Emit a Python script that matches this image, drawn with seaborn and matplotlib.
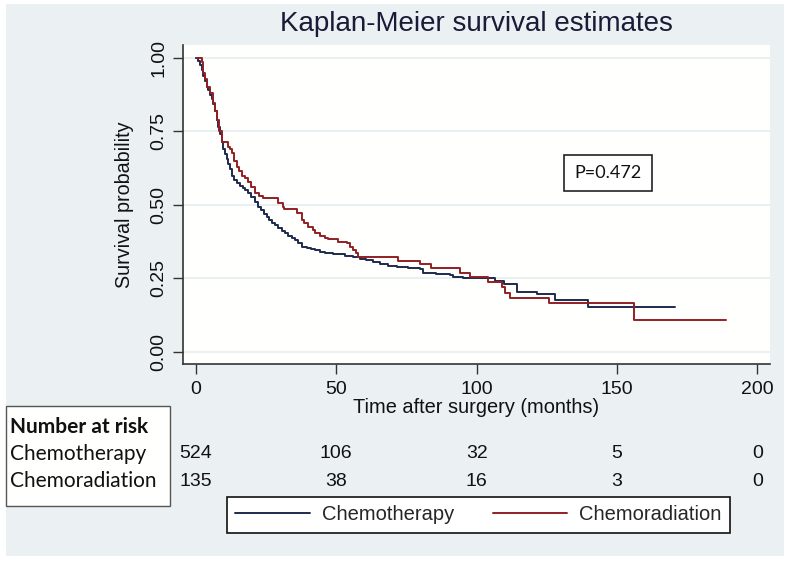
import numpy as np
import pandas as pd
import matplotlib
matplotlib.use("Agg")
import matplotlib.pyplot as plt
import seaborn as sns
from matplotlib.patches import Rectangle
from matplotlib.transforms import blended_transform_factory

# ---------------- data ----------------
groups = ["Chemotherapy", "Chemoradiation"]

chemo_time = [0, 0.7, 1.4, 2.0, 2.6, 3.2, 3.8, 4.4, 5.0, 5.6, 6.2, 6.8, 7.4, 8.0, 8.6,
              9.2, 9.8, 10.3, 10.9, 11.5, 12.1, 12.8, 13.5, 14.5, 15.7, 16.6, 17.5,
              18.6, 19.8, 21.0, 22.2, 23.2, 24.2, 25.2, 26.2, 27.2, 28.2, 29.4, 30.5,
              31.7, 32.9, 34.1, 35.3, 36.5, 37.7, 39.5, 41.0, 42.4, 44.2, 46.0, 49.0,
              53.0, 56.0, 58.4, 60.5, 63.0, 65.6, 68.5, 71.5, 75.5, 79.8, 81.0, 85.5,
              90.5, 91.7, 95.0, 97.6, 106.6, 109.6, 114.3, 121.4, 128.0, 139.8, 170.7]
chemo_surv = [1.0, 0.99, 0.976, 0.96, 0.94, 0.92, 0.90, 0.89, 0.875, 0.86, 0.845, 0.82,
              0.79, 0.765, 0.74, 0.715, 0.69, 0.672, 0.655, 0.64, 0.622, 0.60, 0.585,
              0.575, 0.565, 0.558, 0.55, 0.54, 0.528, 0.51, 0.494, 0.482, 0.47, 0.46,
              0.45, 0.44, 0.432, 0.422, 0.412, 0.403, 0.395, 0.388, 0.381, 0.37, 0.358,
              0.354, 0.35, 0.347, 0.341, 0.336, 0.332, 0.328, 0.322, 0.317, 0.312,
              0.305, 0.298, 0.294, 0.29, 0.285, 0.281, 0.27, 0.266, 0.262, 0.256,
              0.252, 0.25, 0.24, 0.232, 0.205, 0.196, 0.175, 0.152, 0.152]

crt_time = [0, 2.0, 2.6, 3.2, 3.8, 5.0, 6.2, 6.8, 7.4, 8.3, 9.2, 11.3, 12.0, 12.7, 13.6,
            14.5, 15.4, 16.3, 17.5, 18.6, 19.8, 21.0, 22.5, 24.0, 29.3, 31.1, 31.5,
            35.9, 37.7, 38.5, 40.0, 41.8, 42.4, 44.2, 46.0, 47.1, 50.7, 53.7, 55.0,
            56.0, 57.0, 57.9, 72.1, 79.8, 83.6, 94.1, 97.6, 104.2, 108.9, 110.1,
            111.9, 125.6, 156.2, 188.9]
crt_surv = [1.0, 0.987, 0.95, 0.93, 0.90, 0.88, 0.846, 0.82, 0.79, 0.75, 0.713, 0.698,
            0.69, 0.675, 0.65, 0.63, 0.615, 0.60, 0.59, 0.578, 0.562, 0.54, 0.53,
            0.523, 0.508, 0.494, 0.487, 0.472, 0.449, 0.437, 0.426, 0.415, 0.403,
            0.395, 0.388, 0.383, 0.375, 0.369, 0.358, 0.347, 0.335, 0.322, 0.311,
            0.299, 0.285, 0.268, 0.254, 0.239, 0.222, 0.202, 0.182, 0.165, 0.109, 0.109]

risk_times = [0, 50, 100, 150, 200]
risk_chemo = [524, 106, 32, 5, 0]
risk_crt = [135, 38, 16, 3, 0]
x_ticks = [0, 50, 100, 150, 200]
y_ticks = [0.00, 0.25, 0.50, 0.75, 1.00]
p_text = "P=0.472"
title = "Kaplan-Meier survival estimates"
xlabel = "Time after surgery (months)"
ylabel = "Survival probability"

colors = {"Chemotherapy": "#1e2a4e", "Chemoradiation": "#921f24"}

df = pd.concat([
    pd.DataFrame({"time": chemo_time, "surv": chemo_surv, "group": groups[0]}),
    pd.DataFrame({"time": crt_time, "surv": crt_surv, "group": groups[1]}),
], ignore_index=True)

# ---------------- figure ----------------
sns.set_theme(style="white")
plt.rcParams["font.family"] = ["Liberation Sans", "DejaVu Sans"]

W, H = 800, 562
fig = plt.figure(figsize=(W / 100, H / 100), dpi=100, facecolor="white")


def fx(p):
    return p / W


def fy(p):
    return 1 - p / H


bg = Rectangle((fx(6), fy(556)), fx(784) - fx(6), fy(4) - fy(556),
               transform=fig.transFigure, facecolor="#ebf1f2", edgecolor="none", zorder=-5)
fig.add_artist(bg)

ax = fig.add_axes([fx(183), fy(364), fx(770) - fx(183), fy(45) - fy(364)])
ax.set_facecolor("#fffffd")

sns.lineplot(data=df, x="time", y="surv", hue="group", hue_order=groups,
             palette=colors, estimator=None, drawstyle="steps-post",
             linewidth=1.4, legend=False, ax=ax)

ax.set_xlim(-4.6, 204.5)
ax.set_ylim(-0.041, 1.044)
ax.set_xticks(x_ticks)
ax.set_xticklabels([str(v) for v in x_ticks])
ax.set_yticks(y_ticks)
ax.set_yticklabels([f"{v:.2f}" for v in y_ticks], rotation=90, va="center")
ax.tick_params(axis="both", direction="out", length=7, width=1.0, color="#333333",
               labelsize=14, labelcolor="#111111", bottom=True, left=True)
ax.tick_params(axis="x", pad=5)
ax.tick_params(axis="y", pad=4)
ax.yaxis.grid(True, color="#e6eef0", lw=1.2)
ax.xaxis.grid(False)
for s in ["top", "right"]:
    ax.spines[s].set_visible(False)
for s in ["left", "bottom"]:
    ax.spines[s].set_color("#333333")
    ax.spines[s].set_linewidth(1.2)

ax.set_xlabel(xlabel, fontsize=14.4, color="#111111", labelpad=0)
ax.set_ylabel(ylabel, fontsize=14.2, color="#111111", labelpad=12)
ax.set_title(title, fontsize=20, color="#1b1b38", pad=10)

# P-value box
ax.text(0.724, 0.6, p_text, transform=ax.transAxes, ha="center", va="center",
        fontsize=13, family=["Lato", "DejaVu Sans"], color="#111111",
        bbox=dict(boxstyle="square,pad=0.55", facecolor="white", edgecolor="#222222", lw=1.2))

# ---------------- number at risk ----------------
box = Rectangle((fx(6), fy(506)), fx(170) - fx(6), fy(406) - fy(506),
                transform=fig.transFigure, facecolor="#fffffd", edgecolor="#555555",
                lw=1.0, zorder=1)
fig.add_artist(box)
fig.text(fx(10), fy(427), "Number at risk", fontsize=15, fontweight="bold",
         family=["Lato", "DejaVu Sans"], ha="left", va="center", color="#111111", zorder=2)
fig.text(fx(10), fy(454), groups[0], fontsize=15, family=["Lato", "DejaVu Sans"],
         ha="left", va="center", color="#111111", zorder=2)
fig.text(fx(10), fy(481), groups[1], fontsize=15, family=["Lato", "DejaVu Sans"],
         ha="left", va="center", color="#111111", zorder=2)

trans = blended_transform_factory(ax.transData, fig.transFigure)
for t, n1, n2 in zip(risk_times, risk_chemo, risk_crt):
    ax.text(t, fy(454), str(n1), transform=trans, ha="center", va="center",
            fontsize=14, color="#111111", clip_on=False)
    ax.text(t, fy(481), str(n2), transform=trans, ha="center", va="center",
            fontsize=14, color="#111111", clip_on=False)

# ---------------- legend ----------------
handles = ax.get_lines()[:2]
leg = fig.legend(handles, groups, loc="center", bbox_to_anchor=(fx(478.5), fy(515)),
                 ncol=2, fontsize=14.5, frameon=True, fancybox=False,
                 edgecolor="#111111", facecolor="white", framealpha=1,
                 handlelength=3.7, handletextpad=0.6, columnspacing=1.9,
                 borderpad=0.4)
leg.get_frame().set_linewidth(1.2)

fig.savefig("out.png", dpi=100, facecolor="white")
